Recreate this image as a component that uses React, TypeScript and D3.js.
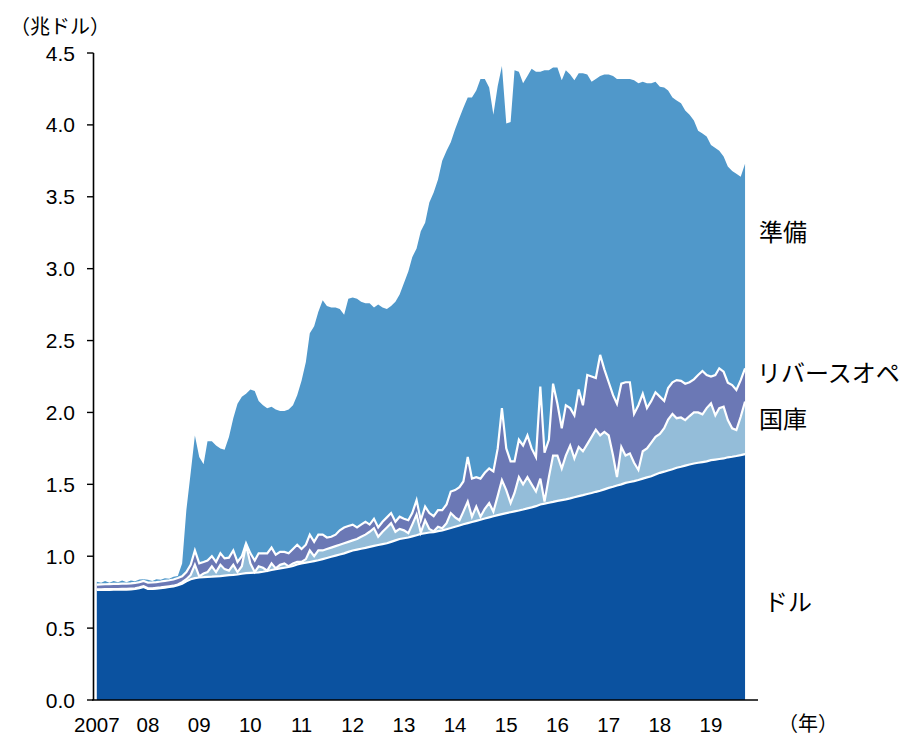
import React from "react";
import * as d3 from "d3";

// Monthly values, Jan 2007 – Sep 2019 (trillion dollars)
const dollar = [
  0.765, 0.765, 0.766, 0.766, 0.767, 0.767, 0.768, 0.768, 0.770, 0.772, 0.778, 0.786,
  0.772, 0.772, 0.775, 0.778, 0.782, 0.786, 0.790, 0.798, 0.808, 0.825, 0.840, 0.848,
  0.852, 0.854, 0.857, 0.858, 0.860, 0.862, 0.865, 0.868, 0.870, 0.873, 0.878, 0.882,
  0.884, 0.886, 0.888, 0.892, 0.897, 0.904, 0.910, 0.915, 0.920, 0.925, 0.932, 0.942,
  0.950, 0.955, 0.960, 0.966, 0.972, 0.980, 0.988, 0.996, 1.004, 1.012, 1.020, 1.030,
  1.040, 1.046, 1.052, 1.058, 1.065, 1.072, 1.078, 1.084, 1.090, 1.100, 1.110, 1.120,
  1.125, 1.130, 1.138, 1.146, 1.155, 1.160, 1.165, 1.168, 1.175, 1.180, 1.188, 1.196,
  1.205, 1.214, 1.222, 1.230, 1.238, 1.246, 1.254, 1.262, 1.270, 1.278, 1.286, 1.293,
  1.300, 1.306, 1.312, 1.318, 1.325, 1.333, 1.340, 1.348, 1.360, 1.366, 1.372, 1.378,
  1.385, 1.390, 1.395, 1.402, 1.410, 1.418, 1.425, 1.433, 1.440, 1.448, 1.455, 1.465,
  1.475, 1.483, 1.492, 1.500, 1.510, 1.516, 1.522, 1.530, 1.540, 1.548, 1.556, 1.568,
  1.580, 1.588, 1.596, 1.605, 1.615, 1.622, 1.630, 1.638, 1.645, 1.650, 1.655, 1.660,
  1.668, 1.672, 1.676, 1.680, 1.688, 1.692, 1.697, 1.703, 1.710,
];

const treasury = [
  0.005, 0.005, 0.005, 0.005, 0.005, 0.005, 0.005, 0.005, 0.005, 0.005, 0.005, 0.005,
  0.005, 0.005, 0.005, 0.005, 0.005, 0.005, 0.005, 0.005, 0.012, 0.015, 0.030, 0.092,
  0.008, 0.026, 0.033, 0.072, 0.030, 0.078, 0.045, 0.032, 0.070, 0.017, 0.052, 0.198,
  0.066, 0.004, 0.042, 0.028, 0.003, 0.046, 0.005, 0.025, 0.030, 0.005, 0.018, 0.018,
  0.010, 0.025, 0.080, 0.034, 0.068, 0.060, 0.062, 0.064, 0.066, 0.068, 0.070, 0.070,
  0.070, 0.074, 0.083, 0.092, 0.105, 0.123, 0.057, 0.086, 0.110, 0.130, 0.060, 0.070,
  0.055, 0.030, 0.082, 0.144, 0.010, 0.090, 0.025, 0.005, 0.030, 0.015, 0.042, 0.104,
  0.065, 0.036, 0.088, 0.150, 0.037, 0.099, 0.021, 0.068, 0.100, 0.032, 0.134, 0.237,
  0.160, 0.064, 0.128, 0.232, 0.175, 0.217, 0.160, 0.102, 0.180, 0.014, 0.178, 0.322,
  0.315, 0.220, 0.305, 0.368, 0.270, 0.342, 0.305, 0.347, 0.390, 0.432, 0.385, 0.400,
  0.365, 0.217, 0.058, 0.260, 0.190, 0.199, 0.128, 0.070, 0.190, 0.202, 0.234, 0.262,
  0.270, 0.302, 0.354, 0.385, 0.345, 0.343, 0.317, 0.337, 0.355, 0.350, 0.332, 0.370,
  0.395, 0.308, 0.354, 0.360, 0.259, 0.198, 0.181, 0.267, 0.365,
];

const reverseRepo = [
  0.033, 0.034, 0.034, 0.035, 0.035, 0.035, 0.036, 0.036, 0.036, 0.037, 0.037, 0.037,
  0.040, 0.041, 0.040, 0.041, 0.042, 0.042, 0.043, 0.045, 0.040, 0.050, 0.070, 0.100,
  0.090, 0.080, 0.080, 0.070, 0.070, 0.080, 0.075, 0.090, 0.100, 0.070, 0.070, 0.010,
  0.070, 0.080, 0.090, 0.100, 0.120, 0.110, 0.095, 0.090, 0.080, 0.090, 0.100, 0.120,
  0.090, 0.100, 0.110, 0.100, 0.110, 0.110, 0.080, 0.075, 0.080, 0.100, 0.110, 0.110,
  0.110, 0.080, 0.085, 0.090, 0.050, 0.065, 0.065, 0.070, 0.070, 0.070, 0.070, 0.085,
  0.080, 0.090, 0.080, 0.100, 0.085, 0.095, 0.110, 0.105, 0.115, 0.125, 0.130, 0.150,
  0.190, 0.230, 0.210, 0.310, 0.265, 0.205, 0.265, 0.250, 0.240, 0.280, 0.330, 0.500,
  0.290, 0.290, 0.220, 0.260, 0.270, 0.290, 0.250, 0.240, 0.640, 0.340, 0.260, 0.500,
  0.360, 0.280, 0.350, 0.260, 0.300, 0.400, 0.320, 0.480, 0.420, 0.360, 0.560, 0.435,
  0.370, 0.420, 0.510, 0.440, 0.510, 0.495, 0.340, 0.450, 0.400, 0.280, 0.290, 0.310,
  0.260, 0.190, 0.220, 0.220, 0.265, 0.255, 0.253, 0.235, 0.230, 0.260, 0.301, 0.230,
  0.187, 0.280, 0.277, 0.243, 0.260, 0.300, 0.278, 0.255, 0.232,
];

const reserves = [
  0.020, 0.012, 0.022, 0.010, 0.020, 0.012, 0.022, 0.010, 0.020, 0.012, 0.018, 0.012,
  0.020, 0.010, 0.020, 0.012, 0.018, 0.010, 0.020, 0.015, 0.090, 0.430, 0.640, 0.800,
  0.740, 0.680, 0.830, 0.800, 0.810, 0.730, 0.755, 0.840, 0.920, 1.100, 1.110, 1.040,
  1.140, 1.180, 1.060, 1.030, 1.010, 0.980, 1.010, 0.980, 0.980, 1.000, 1.000, 1.040,
  1.170, 1.270, 1.400, 1.500, 1.550, 1.630, 1.610, 1.595, 1.580, 1.540, 1.480, 1.580,
  1.580, 1.590, 1.550, 1.520, 1.540, 1.470, 1.550, 1.490, 1.450, 1.440, 1.530, 1.545,
  1.640, 1.730, 1.780, 1.750, 2.010, 1.975, 2.160, 2.252, 2.300, 2.430, 2.460, 2.430,
  2.510, 2.570, 2.600, 2.500, 2.650, 2.690, 2.780, 2.740, 2.650, 2.480, 2.520, 2.380,
  2.260, 2.360, 2.720, 2.560, 2.520, 2.500, 2.640, 2.680, 2.190, 2.660, 2.570, 2.200,
  2.340, 2.420, 2.330, 2.320, 2.330, 2.200, 2.310, 2.090, 2.050, 2.080, 1.940, 2.050,
  2.140, 2.220, 2.260, 2.120, 2.110, 2.110, 2.320, 2.240, 2.170, 2.260, 2.210, 2.160,
  2.155, 2.180, 2.070, 1.980, 1.945, 1.930, 1.900, 1.860, 1.800, 1.700, 1.652, 1.660,
  1.610, 1.580, 1.513, 1.497, 1.503, 1.490, 1.504, 1.415, 1.423,
];

const yTicks = [0, 0.5, 1, 1.5, 2, 2.5, 3, 3.5, 4, 4.5];
const yearTicks = [2007, 2008, 2009, 2010, 2011, 2012, 2013, 2014, 2015, 2016, 2017, 2018, 2019];
const yearLabels = ["2007", "08", "09", "10", "11", "12", "13", "14", "15", "16", "17", "18", "19"];

const keys = ["dollar", "treasury", "reverseRepo", "reserves"];
const colors: Record<string, string> = {
  dollar: "#0b52a0",
  treasury: "#94bdd9",
  reverseRepo: "#6b78b5",
  reserves: "#5098ca",
};

const W = 912;
const H = 737;
const NUM_FONT = "'Liberation Sans', Arial, sans-serif";
const JP_FONT = "'Noto Sans CJK JP', 'Noto Sans', sans-serif";

export default function App() {
  const months = d3.timeMonth.range(new Date(2007, 0, 1), new Date(2019, 9, 1));
  const rows = months.map((date, i) => ({
    date,
    dollar: dollar[i],
    treasury: treasury[i],
    reverseRepo: reverseRepo[i],
    reserves: reserves[i],
  }));

  const x = d3
    .scaleTime()
    .domain([new Date(2007, 0, 1), new Date(2019, 0, 1)])
    .range([96.8, 711]);
  const y = d3.scaleLinear().domain([0, 4.5]).range([700, 53]);

  const series = d3.stack<any>().keys(keys)(rows);

  const area = d3
    .area<any>()
    .x((d) => x(d.data.date))
    .y0((d) => y(d[0]))
    .y1((d) => y(d[1]));

  const topLine = d3
    .line<any>()
    .x((d) => x(d.data.date))
    .y((d) => y(d[1]));

  const axisX = 93.5;

  return (
    <svg
      width={W}
      height={H}
      viewBox={`0 0 ${W} ${H}`}
      style={{ position: "absolute", left: 0, top: 0, background: "#fff" }}
    >
      {series.map((s) => (
        <path key={s.key} d={area(s) || ""} fill={colors[s.key]} />
      ))}
      {series.slice(0, 3).map((s) => (
        <path
          key={`line-${s.key}`}
          d={topLine(s) || ""}
          fill="none"
          stroke="#fff"
          strokeWidth={2.2}
          strokeLinejoin="miter"
          strokeMiterlimit={4}
        />
      ))}

      {/* y axis */}
      <line x1={axisX} x2={axisX} y1={y(4.5)} y2={y(0)} stroke="#000" strokeWidth={1.6} />
      {yTicks.map((t) => (
        <g key={t}>
          <line x1={87} x2={axisX} y1={y(t)} y2={y(t)} stroke="#000" strokeWidth={1.4} />
          <text
            x={75}
            y={y(t)}
            dy="0.36em"
            textAnchor="end"
            fontFamily={NUM_FONT}
            fontSize={21}
            fill="#000"
          >
            {t.toFixed(1)}
          </text>
        </g>
      ))}
      <text x={10} y={34} fontFamily={JP_FONT} fontSize={20} fill="#000">
        （兆ドル）
      </text>

      {/* x axis */}
      <line x1={92} x2={758} y1={y(0)} y2={y(0)} stroke="#000" strokeWidth={1.4} />
      {yearTicks.map((yr, i) => (
        <text
          key={yr}
          x={x(new Date(yr, 0, 1))}
          y={731.5}
          textAnchor="middle"
          fontFamily={NUM_FONT}
          fontSize={20.5}
          fill="#000"
        >
          {yearLabels[i]}
        </text>
      ))}
      <text x={778} y={731} fontFamily={JP_FONT} fontSize={20} fill="#000">
        （年）
      </text>

      {/* series labels */}
      <text x={759} y={241} fontFamily={JP_FONT} fontSize={24} fill="#000">
        準備
      </text>
      <text x={757} y={382} fontFamily={JP_FONT} fontSize={24} fill="#000">
        リバースオペ
      </text>
      <text x={759} y={428} fontFamily={JP_FONT} fontSize={24} fill="#000">
        国庫
      </text>
      <text x={764} y={611} fontFamily={JP_FONT} fontSize={24} fill="#000">
        ドル
      </text>
    </svg>
  );
}
